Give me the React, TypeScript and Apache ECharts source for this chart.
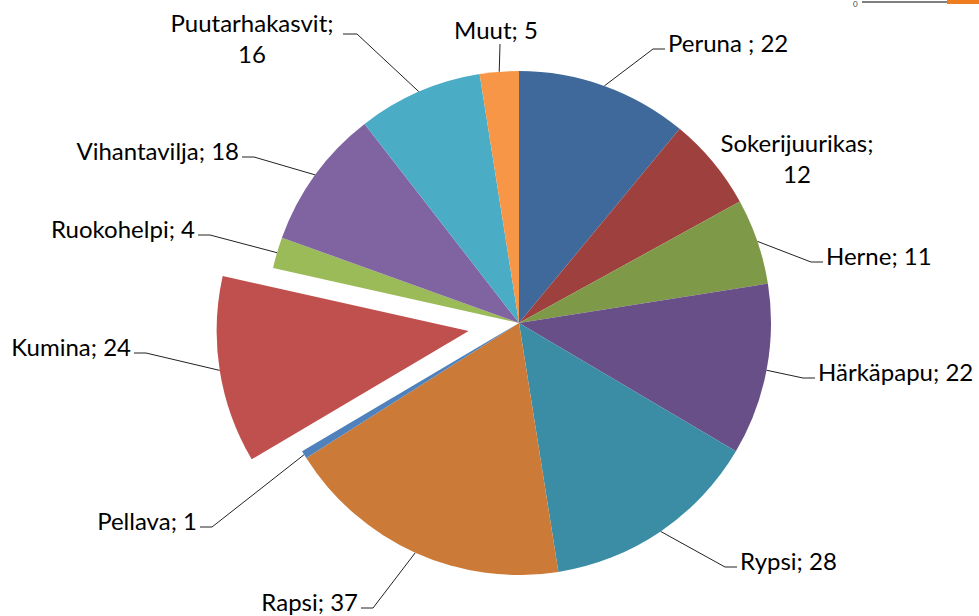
import React, { useEffect, useRef } from 'react';
import * as echarts from 'echarts';

const categories = ['Peruna ', 'Sokerijuurikas', 'Herne', 'Härkäpapu', 'Rypsi', 'Rapsi', 'Pellava', 'Kumina', 'Ruokohelpi', 'Vihantavilja', 'Puutarhakasvit', 'Muut'];
const values = [22, 12, 11, 22, 28, 37, 1, 24, 4, 18, 16, 5];
const colors = ['#3E699A', '#9E413E', '#7E9A48', '#694F87', '#3B8DA5', '#CC7A37', '#4F81BD', '#C0504D', '#9BBB59', '#8064A2', '#4BACC6', '#F79646'];
const explodedIndex = 7;

type Place = { x: number; y: number; align: 'left' | 'right' | 'center'; wrap?: boolean; noLine?: boolean; stub?: number[]; end?: number[] };
const labelPlacement: Place[] = [
  { x: 668, y: 42, align: 'left' },
  { x: 797, y: 158, align: 'center', wrap: true, noLine: true },
  { x: 826, y: 255, align: 'left' },
  { x: 818, y: 371, align: 'left' },
  { x: 740, y: 560, align: 'left' },
  { x: 358, y: 601, align: 'right' },
  { x: 197, y: 520, align: 'right' },
  { x: 131, y: 346, align: 'right' },
  { x: 195, y: 228, align: 'right' },
  { x: 239, y: 150, align: 'right' },
  { x: 252, y: 38, align: 'center', wrap: true, stub: [357, 343, 34] },
  { x: 496, y: 29, align: 'center', end: [500, 44] },
];

const CX = 519;
const CY = 323;
const R = 252;
const EXPLODE = 51;

export default function App() {
  const ref = useRef<HTMLDivElement>(null);
  useEffect(() => {
    if (!ref.current) return;
    const chart = echarts.init(ref.current, undefined, { renderer: 'svg' });
    const total = values.reduce((a, b) => a + b, 0);
    const before = values.slice(0, explodedIndex).reduce((a, b) => a + b, 0);
    const mid = ((before + values[explodedIndex] / 2) / total) * Math.PI * 2;
    const cx2 = CX + EXPLODE * Math.sin(mid);
    const cy2 = CY - EXPLODE * Math.cos(mid);

    const labelLayout = (params: any) => {
      const p = labelPlacement[params.dataIndex];
      if (!p) return {};
      const res: any = { x: p.x, y: p.y, align: p.align, verticalAlign: 'middle' };
      const pts = params.labelLinePoints;
      if (pts && pts.length && !p.noLine) {
        const start = pts[0];
        let a: number[];
        let b: number[];
        if (p.stub) {
          a = [p.stub[0], p.stub[2]];
          b = [p.stub[1], p.stub[2]];
        } else if (p.end) {
          a = p.end;
          b = p.end;
        } else if (p.align === 'left') {
          a = [p.x - 15, p.y + 7];
          b = [p.x - 3, p.y + 7];
        } else {
          a = [p.x + 15, p.y + 7];
          b = [p.x + 3, p.y + 7];
        }
        res.labelLinePoints = [start, a, b];
      }
      return res;
    };

    const fmt = (params: any) => {
      const p = labelPlacement[params.dataIndex];
      return p && p.wrap ? `${params.name};\n${params.value}` : `${params.name}; ${params.value}`;
    };

    const common = {
      type: 'pie',
      radius: R,
      startAngle: 90,
      clockwise: true,
      avoidLabelOverlap: false,
      silent: true,
      emphasis: { disabled: true },
      itemStyle: { borderWidth: 0 },
      label: {
        show: true,
        position: 'outside',
        formatter: fmt,
        fontSize: 24,
        lineHeight: 24,
        color: '#000',
        fontFamily: 'Lato',
      },
      labelLine: { show: true, lineStyle: { color: '#222', width: 1 } },
      labelLayout,
    };

    const mk = (visible: (i: number) => boolean) =>
      categories.map((name, i) => ({
        name,
        value: values[i],
        itemStyle: { color: visible(i) ? colors[i] : 'rgba(0,0,0,0)' },
        label: { show: visible(i), lineHeight: labelPlacement[i].wrap ? 31 : 24 },
        labelLine: { show: visible(i) && !labelPlacement[i].noLine },
      }));

    chart.setOption({
      animation: false,
      backgroundColor: '#fff',
      graphic: [
        { type: 'text', x: 853, y: 0, style: { text: '0', fontSize: 8, fill: '#404040', fontFamily: 'Lato' } },
        { type: 'line', shape: { x1: 862, y1: 2, x2: 947, y2: 2 }, style: { stroke: '#7f7f7f', lineWidth: 2 } },
        { type: 'rect', shape: { x: 947, y: 0, width: 32, height: 4 }, style: { fill: '#F07C20' } },
      ],
      series: [
        { ...common, center: [CX, CY], data: mk((i) => i !== explodedIndex) },
        { ...common, center: [cx2, cy2], data: mk((i) => i === explodedIndex) },
      ],
    });
    return () => chart.dispose();
  }, []);
  return <div ref={ref} style={{ width: 979, height: 616, position: 'absolute', left: 0, top: 0 }} />;
}
